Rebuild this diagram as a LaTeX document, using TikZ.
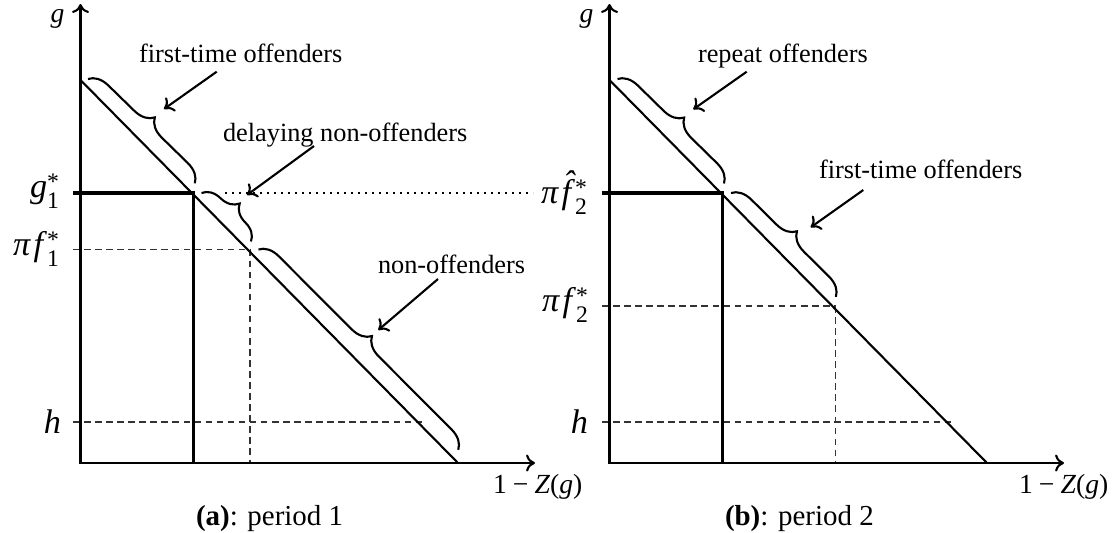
\documentclass[tikz,border=0pt]{standalone}
\usepackage{fontspec}
\setmainfont{Liberation Serif}
\usetikzlibrary{decorations.pathreplacing,arrows.meta}
\newcommand\stsub[2]{#1\rlap{\raisebox{-4.2pt}{\fontsize{9}{9}\selectfont #2}}{\fontsize{9}{9}\selectfont\raisebox{3pt}{*}}}
\newcommand\fhat{\textit{\accent"02C6 f}}
\begin{document}
\begin{tikzpicture}[x=0.38pt,y=-0.38pt,
  every node/.style={inner sep=0pt,outer sep=0pt},
  axisln/.style={line width=0.8pt,{To[length=3.4pt,width=6.5pt]}-{To[length=3.4pt,width=6.5pt]}},
  diag/.style={line width=0.8pt},
  thickln/.style={line width=1.5pt},
  dashln/.style={line width=0.5pt,black!80,dash pattern=on 2.5pt off 1.7pt},
  dotln/.style={line width=0.85pt,dash pattern=on 0.85pt off 1.81pt},
  brc/.style={decorate,decoration={brace,amplitude=7.3pt},line width=0.8pt},
  pointer/.style={line width=0.8pt,-{To[length=3.4pt,width=6.5pt]}},
  ann/.style={anchor=base west,font=\fontsize{10}{12}\selectfont},
  vlab/.style={anchor=base east,font=\fontsize{13}{15}\selectfont},
  axlab/.style={font=\fontsize{10.5}{12}\selectfont},
  capt/.style={anchor=base west,font=\fontsize{11}{13}\selectfont},
]
\useasboundingbox (0,0) rectangle (1116,532);

% ---------------- left panel ----------------
\coordinate (O1) at (80.5,463);
\coordinate (Y1) at (80.5,4);
\coordinate (X1) at (535,463);
\coordinate (D1a) at (80.5,80);
\coordinate (D1b) at (458,463);
\coordinate (G1) at (193.5,193);
\coordinate (G1t) at (73,193);
\coordinate (G1b) at (193.5,463);
\coordinate (F1) at (250,249.5);
\coordinate (F1t) at (73,249.5);
\coordinate (F1b) at (250,463);
\coordinate (H1) at (422.5,422);
\coordinate (H1t) at (73,422);

\draw[dashln] (F1t) -- (F1);
\draw[dashln] (F1) -- (F1b);
\draw[dashln] (H1t) -- (H1);
\draw[axisln] (Y1) -- (O1) -- (X1);
\draw[diag] (D1a) -- (D1b);
\draw[thickln] (G1t) -- (G1) -- (G1b);

\node[vlab] (lg1) at (59,197) {\stsub{\textit{g}}{1}};
\node[vlab] (lf1) at (59,255) {\textit{π}\kern1pt\stsub{\textit{f}}{1}};
\node[vlab] (lh1) at (61,433) {\textit{h}};
\node[axlab,anchor=base] (ly1) at (57.5,22) {\textit{g}};
\node[axlab,anchor=base west] (lx1) at (493,493) {1\hspace{0.22em}−\hspace{0.22em}\textit{Z}(\textit{g})};
\node[capt] (cap1) at (196,525.5) {\textbf{(a)}: period 1};

\node[ann] (t1) at (139,62) {first-time offenders};
\node[ann] (t2) at (223,141) {delaying non-offenders};
\node[ann] (t3) at (378,273) {non-offenders};

\coordinate (b1a) at (88,79);
\coordinate (b1b) at (195,183.5);
\coordinate (b2a) at (201.5,193);
\coordinate (b2b) at (251,241.5);
\coordinate (b3a) at (258.5,249.5);
\coordinate (b3b) at (458.5,450);
\draw[brc] (b1a) -- (b1b);
\draw[brc] (b2a) -- (b2b);
\draw[brc] (b3a) -- (b3b);

\coordinate (a1s) at (216.7,71.7);
\coordinate (a1e) at (164,109);
\coordinate (a2s) at (314,146);
\coordinate (a2e) at (247,195);
\coordinate (a3s) at (438,279);
\coordinate (a3e) at (378.3,330);
\draw[pointer] (a1s) -- (a1e);
\draw[pointer] (a2s) -- (a2e);
\draw[pointer] (a3s) -- (a3e);

% ---------------- right panel ----------------
\coordinate (O2) at (609.5,463);
\coordinate (Y2) at (609.5,4);
\coordinate (X2) at (1064,463);
\coordinate (D2a) at (609.5,80);
\coordinate (D2b) at (987,463);
\coordinate (G2) at (722.5,193);
\coordinate (G2t) at (602,193);
\coordinate (G2b) at (722.5,463);
\coordinate (F2) at (835.5,306);
\coordinate (F2t) at (602,306);
\coordinate (F2b) at (835.5,463);
\coordinate (H2) at (951.5,422);
\coordinate (H2t) at (602,422);

\draw[dashln] (F2t) -- (F2);
\draw[dashln] (F2) -- (F2b);
\draw[dashln] (H2t) -- (H2);
\draw[axisln] (Y2) -- (O2) -- (X2);
\draw[diag] (D2a) -- (D2b);
\draw[thickln] (G2t) -- (G2) -- (G2b);

\node[vlab] (lfh2) at (587,203) {\textit{π}\kern1pt\stsub{\fhat}{2}};
\node[vlab] (lf2) at (588,311) {\textit{π}\kern1pt\stsub{\textit{f}}{2}};
\node[vlab] (lh2) at (588,433) {\textit{h}};
\node[axlab,anchor=base] (ly2) at (586.5,22) {\textit{g}};
\node[axlab,anchor=base west] (lx2) at (1019,493) {1\hspace{0.22em}−\hspace{0.22em}\textit{Z}(\textit{g})};
\node[capt] (cap2) at (725,525.5) {\textbf{(b)}: period 2};

\node[ann] (t4) at (698,62) {repeat offenders};
\node[ann] (t5) at (819,178) {first-time offenders};

\coordinate (b4a) at (617.5,79);
\coordinate (b4b) at (724,183.5);
\coordinate (b5a) at (731,193);
\coordinate (b5b) at (836,297);
\draw[brc] (b4a) -- (b4b);
\draw[brc] (b5a) -- (b5b);

\coordinate (a4s) at (746.7,71.7);
\coordinate (a4e) at (693.3,109.3);
\coordinate (a5s) at (863.3,190);
\coordinate (a5e) at (810.7,227.3);
\draw[pointer] (a4s) -- (a4e);
\draw[pointer] (a5s) -- (a5e);

% dotted connector from left panel to right label
\coordinate (d1) at (225,193);
\coordinate (d2) at (533,193);
\draw[dotln] (d1) -- (d2);
\end{tikzpicture}
\end{document}
